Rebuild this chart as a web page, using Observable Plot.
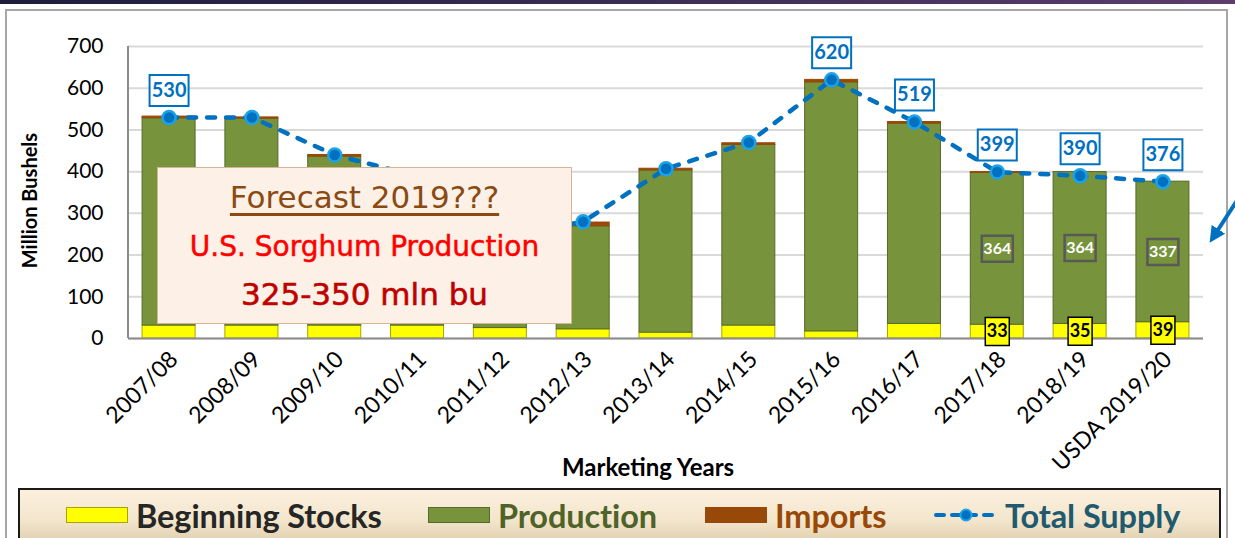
<!DOCTYPE html>
<html>
<head>
<meta charset="utf-8">
<script src="https://cdn.jsdelivr.net/npm/d3@7"></script>
<script src="https://cdn.jsdelivr.net/npm/@observablehq/plot@0.6"></script>
<style>
  html, body { margin: 0; padding: 0; background: #fff; }
  #wrap { position: relative; width: 1235px; height: 538px; overflow: hidden; background: #fff; font-family: Lato, "Liberation Sans", sans-serif; }
  #topbar { position: absolute; left: 0; top: 0; width: 1235px; height: 4px; background: linear-gradient(90deg, #1d1d3a, #3a2c55 50%, #5c3d6d); }
  #frame { position: absolute; left: 5px; top: 9px; width: 1223px; height: 540px; border: 2px solid #a6a6a6; box-sizing: border-box; }
  #chart { position: absolute; left: 0; top: 0; }
  #note { position: absolute; left: 157px; top: 167px; width: 415px; height: 157px; box-sizing: border-box;
          background: #fdf1e7; border: 1px solid #d4b595; font-family: "DejaVu Sans", sans-serif; text-align: center; }
  #note div { position: absolute; left: 0; right: 0; line-height: 1; white-space: nowrap; }
  #note .l1 { top: 14px; font-size: 31px; color: #8b4a12; }
  #note .l1 span { text-decoration: underline; text-decoration-thickness: 3px; text-underline-offset: 5px; }
  #note .l2 { top: 65px; font-size: 28px; color: #ff0000; -webkit-text-stroke: 0.5px #ff0000; }
  #note .l3 { top: 111px; font-size: 31px; color: #c00000; -webkit-text-stroke: 0.6px #c00000; }
  #legend { position: absolute; left: 18px; top: 488px; width: 1203px; height: 52px; box-sizing: border-box;
            background: linear-gradient(180deg, #fcf0de, #f3e6cd 60%, #e3d2b2); border: 2px solid #1a1a1a; border-bottom: none; }
  .li { position: absolute; top: 0; height: 50px; display: flex; align-items: center; font-weight: 700; font-size: 32.5px; white-space: nowrap; letter-spacing: -0.1px; }
  .sw { display: inline-block; width: 62px; height: 16px; margin-right: 8px; box-sizing: border-box; }
  #arrow { position: absolute; left: 0; top: 0; }
</style>
</head>
<body>
<div id="wrap">
  <div id="topbar"></div>
  <div id="frame"></div>
  <div id="chart"></div>
  <div id="note">
    <div class="l1"><span>Forecast 2019???</span></div>
    <div class="l2">U.S. Sorghum Production</div>
    <div class="l3">325-350 mln bu</div>
  </div>
  <div id="legend"></div>
  <svg id="arrow" width="1235" height="538">
    <defs>
      <marker id="ah" viewBox="0 0 10 10" refX="5" refY="5" markerWidth="4" markerHeight="4" orient="auto-start-reverse">
        <path d="M0,0 L10,5 L0,10 z" fill="#0070c0"></path>
      </marker>
    </defs>
    <line x1="1240" y1="196" x2="1214" y2="236" stroke="#0070c0" stroke-width="4" marker-end="url(#ah)"></line>
  </svg>
</div>
<script>
// ---- data ----
const years = ["2007/08","2008/09","2009/10","2010/11","2011/12","2012/13","2013/14","2014/15","2015/16","2016/17","2017/18","2018/19","USDA 2019/20"];
const beginningStocks = [31, 31, 31, 31, 25, 22, 14, 31, 17, 35, 33, 35, 39];
const production      = [497, 496, 405, 357, 214, 247, 389, 433, 597, 480, 364, 364, 337];
const imports         = [4, 3, 4, 1, 1, 9, 4, 4, 6, 4, 2, 0, 0];
const totalSupply     = [530, 530, 440, 389, 240, 280, 407, 470, 620, 519, 399, 390, 376];
const totalLabels     = ["530", null, null, null, null, null, null, null, "620", "519", "399", "390", "376"];
const productionLabels = [null, null, null, null, null, null, null, null, null, null, "364", "364", "337"];
const stocksLabels     = [null, null, null, null, null, null, null, null, null, null, "33", "35", "39"];
const yTicks = [0, 100, 200, 300, 400, 500, 600, 700];

const seriesNames = ["Beginning Stocks", "Production", "Imports", "Total Supply"];
const fillColors   = {"Beginning Stocks": "#ffff00", "Production": "#77933c", "Imports": "#984807"};
const strokeColors = {"Beginning Stocks": "#a6a600", "Production": "#55692a", "Imports": "#984807"};

// ---- tables built from the arrays ----
const stacked = [];
years.forEach((yr, i) => {
  stacked.push({year: yr, series: "Beginning Stocks", value: beginningStocks[i]});
  stacked.push({year: yr, series: "Production", value: production[i]});
  stacked.push({year: yr, series: "Imports", value: imports[i]});
});
const rows = years.map((yr, i) => ({
  year: yr, stocks: beginningStocks[i], production: production[i], total: totalSupply[i],
  totalLabel: totalLabels[i], prodLabel: productionLabels[i], stockLabel: stocksLabels[i]
}));

const box = (w, h) => ({ draw(ctx) { ctx.moveTo(-w/2, -h/2); ctx.lineTo(w/2, -h/2); ctx.lineTo(w/2, h/2); ctx.lineTo(-w/2, h/2); ctx.closePath(); } });

const chart = Plot.plot({
  width: 1235,
  height: 486,
  marginLeft: 128,
  marginRight: 32,
  marginTop: 46,
  marginBottom: 148,
  style: {fontFamily: "Lato, 'Liberation Sans', sans-serif", color: "#000", background: "transparent", overflow: "visible"},
  x: {domain: years, paddingInner: 0.36, paddingOuter: 0.17, round: false, label: null},
  y: {domain: [0, 700], label: null},
  marks: [
    Plot.gridY({ticks: yTicks, stroke: "#d9d9d9", strokeOpacity: 1, strokeWidth: 2}),
    Plot.axisY({ticks: yTicks, tickSize: 0, tickPadding: 25, fontSize: 21, label: null}),
    Plot.axisX({tickSize: 0, tickPadding: 17, dx: 5, tickRotate: -45, fontSize: 23, label: null}),
    Plot.barY(stacked, {x: "year", y: "value", fill: d => fillColors[d.series], stroke: d => strokeColors[d.series], strokeWidth: 1}),
    Plot.ruleY([0], {stroke: "#8c8c8c", strokeWidth: 2}),
    (index, scales, values, dimensions) => {
      const ln = document.createElementNS("http://www.w3.org/2000/svg", "line");
      const x = dimensions.marginLeft;
      ln.setAttribute("x1", x); ln.setAttribute("x2", x);
      ln.setAttribute("y1", scales.y(700)); ln.setAttribute("y2", scales.y(0));
      ln.setAttribute("stroke", "#8c8c8c"); ln.setAttribute("stroke-width", 2);
      return ln;
    },
    Plot.line(rows, {x: "year", y: "total", stroke: "#0070c0", strokeWidth: 4.5, strokeDasharray: "8,11", strokeLinecap: "round"}),
    Plot.dot(rows, {x: "year", y: "total", r: 6.5, fill: "#0070c0", stroke: "#1aa3e8", strokeWidth: 2.5}),
    Plot.dot(rows.filter(d => d.totalLabel), {x: "year", y: "total", dy: -27, symbol: box(39, 31), r: 10, fill: "#fff", stroke: "#0070c0", strokeWidth: 2}),
    Plot.text(rows.filter(d => d.totalLabel), {x: "year", y: "total", dy: -27, text: "totalLabel", fill: "#0070c0", fontWeight: 700, fontSize: 20}),
    Plot.dot(rows.filter(d => d.prodLabel), {x: "year", y: d => d.stocks + d.production / 2, symbol: box(31, 26), r: 10, fill: "none", stroke: "#595959", strokeWidth: 2.5}),
    Plot.text(rows.filter(d => d.prodLabel), {x: "year", y: d => d.stocks + d.production / 2, text: "prodLabel", fill: "#fff", fontWeight: 700, fontSize: 16}),
    Plot.dot(rows.filter(d => d.stockLabel), {x: "year", y: d => d.stocks / 2, symbol: box(24, 28), r: 10, fill: "#ffff00", stroke: "#000", strokeWidth: 1.5}),
    Plot.text(rows.filter(d => d.stockLabel), {x: "year", y: d => d.stocks / 2, text: "stockLabel", fill: "#000", fontWeight: 700, fontSize: 18}),
    Plot.text(["Marketing Years"], {frameAnchor: "bottom", dx: -18, dy: 137, fontWeight: 700, fontSize: 24}),
    Plot.text(["Million Bushels"], {frameAnchor: "left", textAnchor: "middle", dx: -98, dy: 8, rotate: -90, fontWeight: 700, fontSize: 20})
  ]
});
document.getElementById("chart").appendChild(chart);

// ---- legend ----
const legend = document.getElementById("legend");
const legendItems = [
  {name: seriesNames[0], left: 46, color: "#262626"},
  {name: seriesNames[1], left: 408, color: "#4f6228"},
  {name: seriesNames[2], left: 685, color: "#984807"},
  {name: seriesNames[3], left: 913, color: "#1f5a6e"}
];
legendItems.forEach(it => {
  const d = document.createElement("div");
  d.className = "li";
  d.style.left = it.left + "px";
  d.style.color = it.color;
  if (it.name === "Total Supply") {
    d.innerHTML = '<svg width="66" height="20" style="margin-right:6px"><line x1="3" y1="10" x2="63" y2="10" stroke="#0070c0" stroke-width="4" stroke-dasharray="8,8" stroke-linecap="round"/><circle cx="33" cy="10" r="5.5" fill="#0070c0" stroke="#1aa3e8" stroke-width="2"/></svg>';
  } else {
    const sw = document.createElement("span");
    sw.className = "sw";
    sw.style.background = fillColors[it.name];
    sw.style.border = "1.5px solid " + strokeColors[it.name];
    d.appendChild(sw);
  }
  d.appendChild(document.createTextNode(it.name));
  legend.appendChild(d);
});
</script>
</body>
</html>
